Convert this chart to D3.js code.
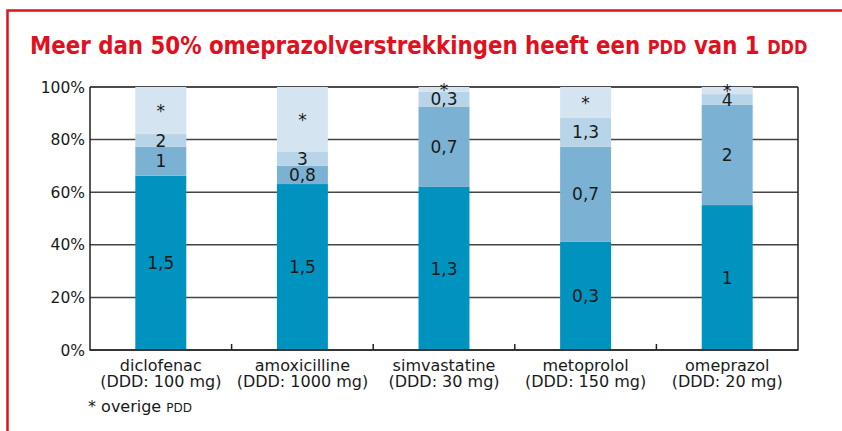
<!DOCTYPE html>
<html>
<head>
<meta charset="utf-8">
<script src="https://cdn.jsdelivr.net/npm/d3@7"></script>
<style>
  body { margin: 0; background: #fff; }
  svg { display: block; }
  text { font-family: "DejaVu Sans", sans-serif; fill: #1a1a1a; }
</style>
</head>
<body>
<div id="chart"></div>
<script>
// data (percent of prescriptions per PDD group)
var categories = ["diclofenac", "amoxicilline", "simvastatine", "metoprolol", "omeprazol"];
var dddLabels = ["(DDD: 100 mg)", "(DDD: 1000 mg)", "(DDD: 30 mg)", "(DDD: 150 mg)", "(DDD: 20 mg)"];
var seg1 = [66.3, 63.1, 62.0, 41.1, 55.1];
var seg2 = [11.0, 7.0, 30.4, 36.2, 38.1];
var seg3 = [4.8, 5.2, 5.8, 10.9, 4.1];
var seg4 = [17.9, 24.7, 1.8, 11.8, 2.7];
var seg1Labels = ["1,5", "1,5", "1,3", "0,3", "1"];
var seg2Labels = ["1", "0,8", "0,7", "0,7", "2"];
var seg3Labels = ["2", "3", "0,3", "1,3", "4"];
var seg4Labels = ["*", "*", "*", "*", "*"];
var yTicks = [0, 20, 40, 60, 80, 100];

var colors = ["#0093c0", "#7bb2d3", "#b7d4e8", "#d4e4f1"];
var red = "#e0101e";

var width = 842, height = 431;
var margin = { top: 87, left: 90, right: 44, bottom: 81 };
var chartWidth = width - margin.left - margin.right;
var chartHeight = height - margin.top - margin.bottom;

var svg = d3.select("#chart").append("svg")
  .attr("width", width)
  .attr("height", height);

// red frame (left and top)
svg.append("path")
  .attr("d", "M7.5," + height + " V10.5 H" + width)
  .attr("fill", "none")
  .attr("stroke", red)
  .attr("stroke-width", 2.5);

// title, squeezed horizontally to the width of the original condensed face
var titleG = svg.append("g");
var title = titleG.append("text")
  .attr("x", 0)
  .attr("y", 0)
  .style("font-weight", "bold")
  .style("font-size", "25px")
  .style("fill", red);
title.append("tspan").text("Meer dan 50% omeprazolverstrekkingen heeft een ");
title.append("tspan").style("font-size", "19px").text("PDD");
title.append("tspan").text(" van 1 ");
title.append("tspan").style("font-size", "19px").text("DDD");
var titleW = title.node().getComputedTextLength();
titleG.attr("transform", "translate(30,54) scale(" + (778 / titleW) + ",1)");

var g = svg.append("g")
  .attr("transform", "translate(" + margin.left + "," + margin.top + ")");

var x = d3.scaleBand()
  .domain(categories)
  .range([0, chartWidth])
  .paddingInner(0.64)
  .paddingOuter(0.32);

var xOuter = d3.scaleBand()
  .domain(categories)
  .range([0, chartWidth]);

var y = d3.scaleLinear()
  .domain([0, 100])
  .range([chartHeight, 0]);

// gridlines
g.selectAll(".grid")
  .data(yTicks)
  .enter()
  .append("line")
  .attr("class", "grid")
  .attr("x1", 0)
  .attr("x2", chartWidth)
  .attr("y1", function(d) { return y(d); })
  .attr("y2", function(d) { return y(d); })
  .attr("stroke", function(d) { return d === 100 ? "#111" : "#444"; })
  .attr("stroke-width", 1.5);

// stacked bars
var rows = categories.map(function(c, i) {
  return { cat: c, s1: seg1[i], s2: seg2[i], s3: seg3[i], s4: seg4[i] };
});
var keys = ["s1", "s2", "s3", "s4"];
var labelSets = [seg1Labels, seg2Labels, seg3Labels, seg4Labels];
var stacked = d3.stack().keys(keys)(rows);

var layers = g.selectAll(".layer")
  .data(stacked)
  .enter()
  .append("g")
  .attr("class", "layer")
  .attr("fill", function(d, i) { return colors[i]; });

layers.selectAll("rect")
  .data(function(d) { return d; })
  .enter()
  .append("rect")
  .attr("x", function(d) { return x(d.data.cat); })
  .attr("width", x.bandwidth())
  .attr("y", function(d) { return y(d[1]); })
  .attr("height", function(d) { return y(d[0]) - y(d[1]); });

// segment labels
stacked.forEach(function(layer, li) {
  g.selectAll(".lbl" + li)
    .data(layer)
    .enter()
    .append("text")
    .attr("class", "lbl" + li)
    .attr("x", function(d) { return x(d.data.cat) + x.bandwidth() / 2; })
    .attr("y", function(d) { return y((d[0] + d[1]) / 2); })
    .attr("dy", "0.36em")
    .attr("text-anchor", "middle")
    .style("font-size", "17px")
    .text(function(d, i) { return labelSets[li][i]; });
});

// axes frame
g.append("path")
  .attr("d", "M0,0 V" + chartHeight + " H" + chartWidth + " V0")
  .attr("fill", "none")
  .attr("stroke", "#222")
  .attr("stroke-width", 1.5);

// small ticks between categories
g.selectAll(".tick-x")
  .data(categories.slice(1))
  .enter()
  .append("line")
  .attr("x1", function(d) { return xOuter(d); })
  .attr("x2", function(d) { return xOuter(d); })
  .attr("y1", chartHeight)
  .attr("y2", chartHeight - 6)
  .attr("stroke", "#222")
  .attr("stroke-width", 1.5);

// y tick labels
g.selectAll(".ylbl")
  .data(yTicks)
  .enter()
  .append("text")
  .attr("x", -5)
  .attr("y", function(d) { return y(d); })
  .attr("dy", "0.36em")
  .attr("text-anchor", "end")
  .style("font-size", "15.5px")
  .text(function(d) { return d + "%"; });

// category labels
g.selectAll(".cat")
  .data(categories)
  .enter()
  .append("text")
  .attr("x", function(d) { return xOuter(d) + xOuter.bandwidth() / 2; })
  .attr("y", chartHeight + 21)
  .attr("text-anchor", "middle")
  .style("font-size", "16px")
  .text(function(d) { return d; });

g.selectAll(".ddd")
  .data(dddLabels)
  .enter()
  .append("text")
  .attr("x", function(d, i) { return xOuter(categories[i]) + xOuter.bandwidth() / 2; })
  .attr("y", chartHeight + 37)
  .attr("text-anchor", "middle")
  .style("font-size", "16px")
  .text(function(d) { return d; });

// footnote
var note = svg.append("text")
  .attr("x", 88)
  .attr("y", 412)
  .style("font-size", "16px");
note.append("tspan").text("* overige ");
note.append("tspan").style("font-size", "12px").text("PDD");
</script>
</body>
</html>
